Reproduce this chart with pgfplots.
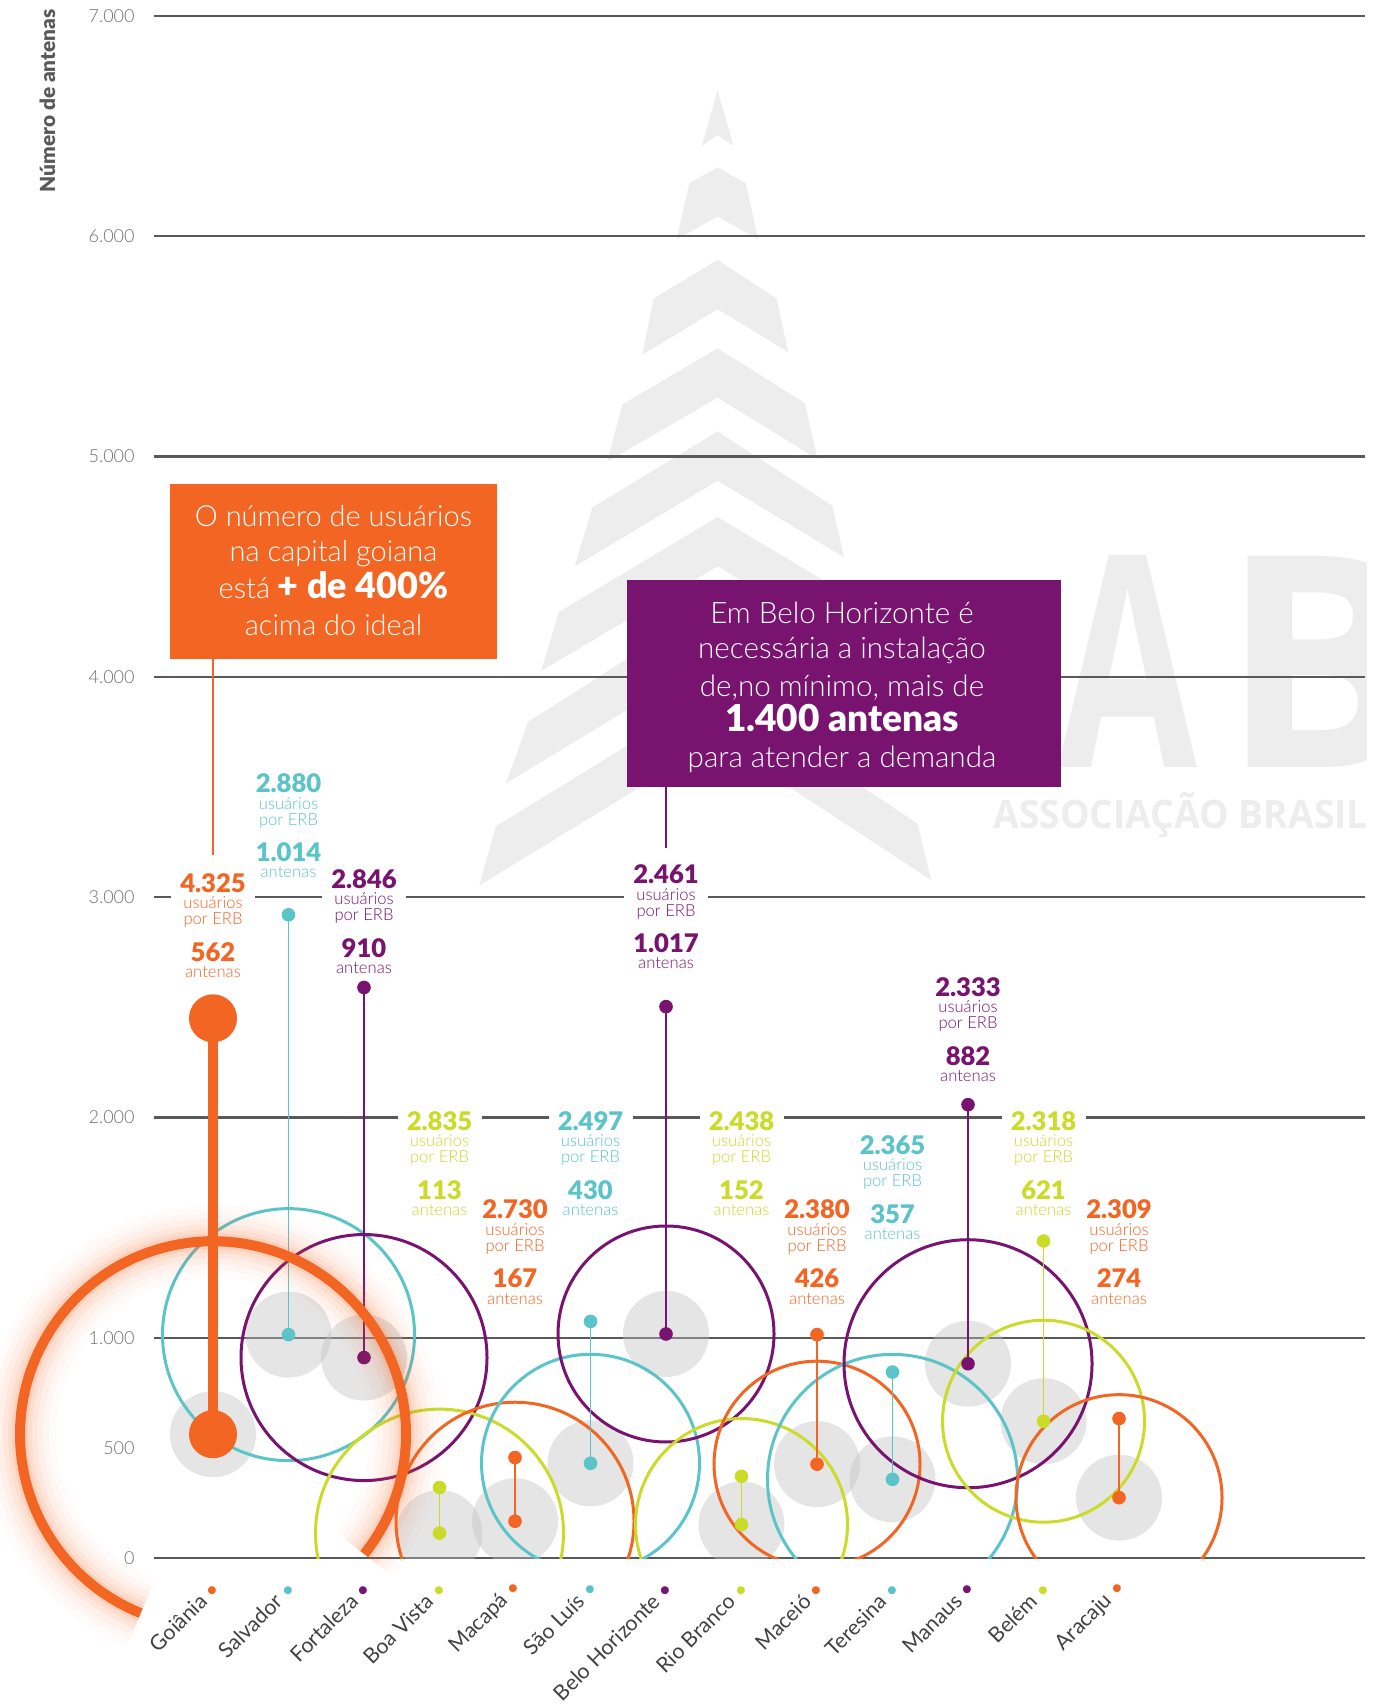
\documentclass[border=0pt]{standalone}
\usepackage{fontspec}
\usepackage{pgfplots}
\usepackage{pgfplotstable}
\pgfplotsset{compat=1.18}
\setmainfont{Lato}
\IfFontExistsTF{Lato Light}{\newfontfamily\ltf{Lato Light}}{\newfontfamily\ltf{Lato}}
\IfFontExistsTF{Lato Black}{\newfontfamily\hvf{Lato Black}}{\newcommand\hvf{\bfseries}}
\newfontfamily\wmf{Open Sans}

\definecolor{cOr}{HTML}{F26522}
\definecolor{cTe}{HTML}{5BC4C8}
\definecolor{cPu}{HTML}{78146F}
\definecolor{cLi}{HTML}{CBDB2A}
\definecolor{gridc}{HTML}{58595B}
\definecolor{tickc}{HTML}{6D6E71}
\definecolor{namec}{HTML}{414042}
\definecolor{wm}{HTML}{EDEDED}
\definecolor{disc}{HTML}{E6E7E8}

% antenas instaladas por capital
\pgfplotstableread{
i ant
0 562
1 1014
2 910
3 113
4 167
5 430
6 1017
7 152
8 426
9 357
10 882
11 621
12 274
}\antenas

% white patch behind a label block (breaks the grid lines)
\newcommand{\blkbg}[2]{%
  \node[fill=white, inner sep=0pt, minimum width=42pt, minimum height=56pt, anchor=north, yshift=10.5pt] at (axis cs:#1,#2) {};
}
% label block: x, y (baseline of first number), colour, users per ERB, antennas
\newcommand{\blk}[5]{%
  \node[anchor=base, inner sep=0pt, text=#3, font=\hvf\fontsize{12.8}{12.8}\selectfont] at (axis cs:#1,#2) {#4};
  \node[anchor=base, inner sep=0pt, text=#3, font=\ltf\fontsize{8.3}{8.3}\selectfont, yshift=-8.15pt] at (axis cs:#1,#2) {usuários};
  \node[anchor=base, inner sep=0pt, text=#3, font=\ltf\fontsize{8.3}{8.3}\selectfont, yshift=-16.15pt] at (axis cs:#1,#2) {por ERB};
  \node[anchor=base, inner sep=0pt, text=#3, font=\hvf\fontsize{12.8}{12.8}\selectfont, yshift=-34.5pt] at (axis cs:#1,#2) {#5};
  \node[anchor=base, inner sep=0pt, text=#3, font=\ltf\fontsize{8.3}{8.3}\selectfont, yshift=-42.5pt] at (axis cs:#1,#2) {antenas};
}

\pgfplotsset{
  base/.style={
    at={(77pt,-779pt)}, anchor=south west,
    scale only axis, width=605.5pt, height=771pt,
    xmin=-0.7815, xmax=15.258, ymin=0, ymax=7000,
  },
}

\begin{document}
\begin{tikzpicture}
\useasboundingbox (0,0) rectangle (686.5pt,-853pt);

% watermark: tower and logo
\begin{scope}[x=0.5pt,y=-0.5pt]
  \fill[wm] (717.6,90.5) -- (733.5,145.7) -- (717.6,135) -- (701.8,145.7) -- cycle;
  \fill[wm] (717.6,167.2) -- (745.9,183.3) -- (758.2,239.5) -- (717.6,216.5) -- (676.5,239.5) -- (689.4,183.3) -- cycle;
  \fill[wm] (717.6,259.9) -- (776.5,298.5) -- (788.2,352.1) -- (717.6,309.2) -- (642.4,354.8) -- (653.5,298.5) -- cycle;
  \fill[wm] (717.6,348.3) -- (804.7,403) -- (817.6,459.2) -- (717.6,397.6) -- (607.1,461.9) -- (622.4,404.6) -- cycle;
  \fill[wm] (717.6,431.4) -- (832.4,505.9) -- (844.1,557.3) -- (717.6,480.7) -- (574.7,566.4) -- (592.4,507.5) -- cycle;
  \fill[wm] (717.6,517.1) -- (876.4,612) -- (894,670.9) -- (717.6,566.4) -- (541.2,670.9) -- (558.8,612) -- cycle;
  \fill[wm] (717.6,601.3) -- (907,721.8) -- (929.3,783.5) -- (717.6,654.9) -- (505.9,783.5) -- (528.2,721.8) -- cycle;
  \fill[wm] (717.6,690) -- (917.6,823.7) -- (931.2,880) -- (717.6,740) -- (479.4,885.3) -- (495.9,826.3) -- cycle;
  \begin{scope}
    \clip (0,0) rectangle (1366,1706);
    \node[anchor=base west, inner sep=0pt, text=wm, font=\wmf\bfseries\fontsize{148}{148}\selectfont, xscale=0.68] at (1058,767) {A};
    \node[anchor=base west, inner sep=0pt, text=wm, font=\wmf\bfseries\fontsize{148}{148}\selectfont] at (1221,767) {B};
    \node[anchor=base west, inner sep=0pt, text=wm, font=\wmf\bfseries\fontsize{19.6}{19.6}\selectfont, xscale=0.95] at (993,828) {ASSOCIAÇÃO BRASIL};
  \end{scope}
\end{scope}

\begin{axis}[base,
  axis line style={draw=none},
  major tick length=0pt,
  ytick={0,1000,...,7000},
  yticklabels={0,1.000,2.000,3.000,4.000,5.000,6.000,7.000},
  extra y ticks={500}, extra y tick labels={500}, extra y tick style={grid=none},
  ymajorgrids, major grid style={draw=gridc, line width=1.2pt},
  yticklabel style={font=\ltf\fontsize{9}{9}\selectfont, text=tickc, anchor=east, inner sep=0pt, xshift=-9.5pt},
  xtick={0,...,12},
  xticklabels={
    Goiânia\hspace{3pt}\textcolor{cOr}{•},
    Salvador\hspace{3pt}\textcolor{cTe}{•},
    Fortaleza\hspace{3pt}\textcolor{cPu}{•},
    Boa Vista\hspace{3pt}\textcolor{cLi}{•},
    Macapá\hspace{3pt}\textcolor{cOr}{•},
    São Luís\hspace{3pt}\textcolor{cTe}{•},
    Belo Horizonte\hspace{3pt}\textcolor{cPu}{•},
    Rio Branco\hspace{3pt}\textcolor{cLi}{•},
    Maceió\hspace{3pt}\textcolor{cOr}{•},
    Teresina\hspace{3pt}\textcolor{cTe}{•},
    Manaus\hspace{3pt}\textcolor{cPu}{•},
    Belém\hspace{3pt}\textcolor{cLi}{•},
    Aracaju\hspace{3pt}\textcolor{cOr}{•}},
  xticklabel style={font=\fontsize{10.6}{10.6}\selectfont, text=namec, xshift=1.7pt, yshift=-13.3pt, rotate=45, anchor=east, inner sep=0pt},
  clip marker paths=true,
]
% white patches first, so that they only cut the grid lines
\blkbg{0}{3023} \blkbg{1}{3473} \blkbg{2}{3041} \blkbg{3}{1943}
\blkbg{4}{1539} \blkbg{5}{1943} \blkbg{6}{3060} \blkbg{7}{1943}
\blkbg{8}{1539} \blkbg{9}{1834} \blkbg{10}{2551} \blkbg{11}{1943}
\blkbg{12}{1539}

% grey discs at the installed antennas
\addplot[only marks, mark=*, mark size=21.5pt, color=disc,
  mark options={fill=black!25, fill opacity=0.4, draw opacity=0, line width=0pt}] table[x=i, y=ant] {\antenas};

% rings
\addplot[only marks, mark=o, mark size=63pt,   mark options={draw=cTe, line width=1.5pt}] coordinates {(1,1014)};
\addplot[only marks, mark=o, mark size=61.5pt, mark options={draw=cPu, line width=1.5pt}] coordinates {(2,910)};
\addplot[only marks, mark=o, mark size=62pt,   mark options={draw=cLi, line width=1.5pt}] coordinates {(3,113)};
\addplot[only marks, mark=o, mark size=59.5pt, mark options={draw=cOr, line width=1.5pt}] coordinates {(4,167)};
\addplot[only marks, mark=o, mark size=54.5pt, mark options={draw=cTe, line width=1.5pt}] coordinates {(5,430)};
\addplot[only marks, mark=o, mark size=54pt,   mark options={draw=cPu, line width=1.5pt}] coordinates {(6,1017)};
\addplot[only marks, mark=o, mark size=53pt,   mark options={draw=cLi, line width=1.5pt}] coordinates {(7,152)};
\addplot[only marks, mark=o, mark size=51.5pt, mark options={draw=cOr, line width=1.5pt}] coordinates {(8,426)};
\addplot[only marks, mark=o, mark size=62.5pt, mark options={draw=cTe, line width=1.5pt}] coordinates {(9,357)};
\addplot[only marks, mark=o, mark size=62pt,   mark options={draw=cPu, line width=1.5pt}] coordinates {(10,882)};
\addplot[only marks, mark=o, mark size=50.5pt, mark options={draw=cLi, line width=1.5pt}] coordinates {(11,621)};
\addplot[only marks, mark=o, mark size=51.5pt, mark options={draw=cOr, line width=1.5pt}] coordinates {(12,274)};

% lollipops: installed -> needed antennas
\addplot[cOr, line width=5pt, mark=*, mark size=9.5pt, mark options={draw=none, fill=cOr}] coordinates {(0,562) (0,2450)};
\addplot[cTe, line width=0.8pt, mark=*, mark size=3pt, mark options={draw=none, fill=cTe}] coordinates {(1,1014) (1,2920)};
\addplot[cPu, line width=0.8pt, mark=*, mark size=3pt, mark options={draw=none, fill=cPu}] coordinates {(2,910) (2,2590)};
\addplot[cLi, line width=0.8pt, mark=*, mark size=3pt, mark options={draw=none, fill=cLi}] coordinates {(3,113) (3,320)};
\addplot[cOr, line width=0.8pt, mark=*, mark size=3pt, mark options={draw=none, fill=cOr}] coordinates {(4,167) (4,456)};
\addplot[cTe, line width=0.8pt, mark=*, mark size=3pt, mark options={draw=none, fill=cTe}] coordinates {(5,430) (5,1074)};
\addplot[cPu, line width=0.8pt, mark=*, mark size=3pt, mark options={draw=none, fill=cPu}] coordinates {(6,1017) (6,2503)};
\addplot[cLi, line width=0.8pt, mark=*, mark size=3pt, mark options={draw=none, fill=cLi}] coordinates {(7,152) (7,371)};
\addplot[cOr, line width=0.8pt, mark=*, mark size=3pt, mark options={draw=none, fill=cOr}] coordinates {(8,426) (8,1014)};
\addplot[cTe, line width=0.8pt, mark=*, mark size=3pt, mark options={draw=none, fill=cTe}] coordinates {(9,357) (9,844)};
\addplot[cPu, line width=0.8pt, mark=*, mark size=3pt, mark options={draw=none, fill=cPu}] coordinates {(10,882) (10,2058)};
\addplot[cLi, line width=0.8pt, mark=*, mark size=3pt, mark options={draw=none, fill=cLi}] coordinates {(11,621) (11,1439)};
\addplot[cOr, line width=0.8pt, mark=*, mark size=3pt, mark options={draw=none, fill=cOr}] coordinates {(12,274) (12,633)};

\blk{0}{3023}{cOr}{4.325}{562}
\blk{1}{3473}{cTe}{2.880}{1.014}
\blk{2}{3041}{cPu}{2.846}{910}
\blk{3}{1943}{cLi}{2.835}{113}
\blk{4}{1539}{cOr}{2.730}{167}
\blk{5}{1943}{cTe}{2.497}{430}
\blk{6}{3060}{cPu}{2.461}{1.017}
\blk{7}{1943}{cLi}{2.438}{152}
\blk{8}{1539}{cOr}{2.380}{426}
\blk{9}{1834}{cTe}{2.365}{357}
\blk{10}{2551}{cPu}{2.333}{882}
\blk{11}{1943}{cLi}{2.318}{621}
\blk{12}{1539}{cOr}{2.309}{274}
\end{axis}

% Goiania: highlighted ring with glow, not clipped
\begin{axis}[base, hide axis, clip=false]
\draw[cOr, line width=36pt, opacity=0.025] (axis cs:0,562) ++(-38.4:96.5pt) arc[start angle=-38.4, end angle=248, radius=96.5pt];
\draw[cOr, line width=29pt, opacity=0.035] (axis cs:0,562) ++(-38.4:96.5pt) arc[start angle=-38.4, end angle=248, radius=96.5pt];
\draw[cOr, line width=23pt, opacity=0.045] (axis cs:0,562) ++(-38.4:96.5pt) arc[start angle=-38.4, end angle=248, radius=96.5pt];
\draw[cOr, line width=17pt, opacity=0.06] (axis cs:0,562) ++(-38.4:96.5pt) arc[start angle=-38.4, end angle=248, radius=96.5pt];
\draw[cOr, line width=12pt, opacity=0.08] (axis cs:0,562) ++(-38.4:96.5pt) arc[start angle=-38.4, end angle=248, radius=96.5pt];
\draw[cOr, line width=8pt, opacity=0.1] (axis cs:0,562) ++(-38.4:96.5pt) arc[start angle=-38.4, end angle=248, radius=96.5pt];
\draw[cOr, line width=5pt] (axis cs:0,562) ++(-38.4:96.5pt) arc[start angle=-38.4, end angle=248, radius=96.5pt];
\end{axis}

% annotation boxes and axis title
\begin{scope}[x=0.5pt,y=-0.5pt]
  \node[rotate=90, anchor=east, inner sep=0pt, text=gridc, font=\hvf\fontsize{10.4}{10.4}\selectfont] at (47.5,9) {Número de antenas};

  \draw[cOr, line width=0.75pt] (213,659) -- (213,855);
  \fill[cOr] (170,484) rectangle (497,659);
  \begin{scope}[every node/.style={anchor=base, inner sep=0pt, text=white, font=\ltf\fontsize{14.5}{14.5}\selectfont}]
    \node at (333.5,526) {O número de usuários};
    \node at (333.5,561) {na capital goiana};
    \node at (333.5,598) {está {\hvf\fontsize{18}{18}\selectfont + de 400\%}};
    \node at (333.5,635) {acima do ideal};
  \end{scope}

  \draw[cPu, line width=0.75pt] (666,787) -- (666,848);
  \fill[cPu] (627,580) rectangle (1061,787);
  \begin{scope}[every node/.style={anchor=base, inner sep=0pt, text=white, font=\ltf\fontsize{14.8}{14.8}\selectfont}]
    \node at (842,623) {Em Belo Horizonte é};
    \node at (842,658) {necessária a instalação};
    \node at (842,696) {de,no mínimo, mais de};
    \node[font=\hvf\fontsize{18.5}{18.5}\selectfont] at (842,731) {1.400 antenas};
    \node at (842,767) {para atender a demanda};
  \end{scope}
\end{scope}
\end{tikzpicture}
\end{document}
